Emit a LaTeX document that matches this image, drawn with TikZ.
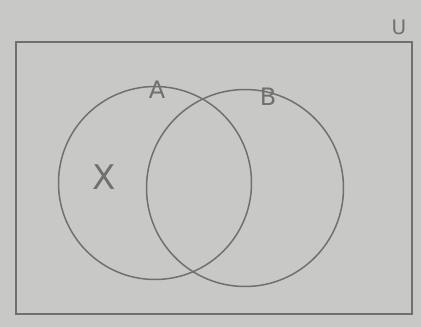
\documentclass[tikz,border=0pt]{standalone}
\usepackage{fontspec}
\setmainfont{DejaVu Sans}
\definecolor{paper}{RGB}{200,200,198}
\definecolor{ink}{RGB}{112,112,112}
\begin{document}
\begin{tikzpicture}[x=1pt,y=-1pt,
  pen/.style={draw=ink,line width=1.5pt},
  setcircle/.style={pen,circle,inner sep=0pt,fill=none},
  lbl/.style={text=ink,font=\fontsize{24}{24}\selectfont,inner sep=0pt}]
\fill[paper] (0,0) rectangle (421,327);
\useasboundingbox (0,0) rectangle (421,327);
\node[pen,rectangle,minimum width=396pt,minimum height=272pt,inner sep=0pt] (U) at (214,178) {};
\node[setcircle,minimum size=193pt] (A) at (155,183) {};
\node[setcircle,minimum size=197pt] (B) at (245,188) {};
\node[lbl] (lA) at (157,90) {A};
\node[lbl] (lB) at (268,97) {B};
\node[lbl,font=\fontsize{20}{20}\selectfont] (lU) at (399,27) {U};
\node[lbl,font=\fontsize{34}{34}\selectfont] (x) at (104,177) {X};
\end{tikzpicture}
\end{document}
